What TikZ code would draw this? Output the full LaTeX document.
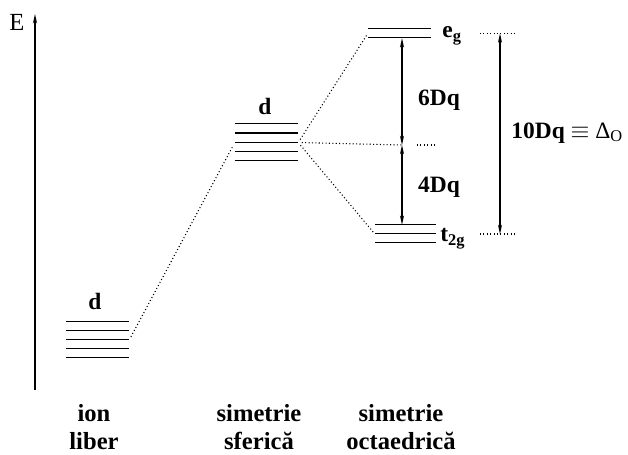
\documentclass[tikz,border=0pt]{standalone}
\usepackage{fontspec}
\setmainfont{Liberation Serif}
\usetikzlibrary{arrows.meta, positioning}
\tikzset{
  >={Stealth[length=8pt,width=3.5pt]}, % narrow arrow heads
  levels/.style={draw=none, inner sep=0pt, minimum width=1.89cm},
  levelline/.style={line width=1pt},
  dotline/.style={dotted, line width=0.9pt},
  gap/.style={<->, line width=1pt},
  lab/.style={font=\fontsize{20}{24}\selectfont\bfseries, inner sep=1pt},
  sym/.style={font=\fontsize{21}{24.5}\selectfont\bfseries, align=center, inner sep=1pt},
}

\begin{document}
\begin{tikzpicture}[x=0.03cm, y=-0.03cm]
    \useasboundingbox (0,0) rectangle (628,454);

    % energy axis
    \coordinate (axbot) at (35,390);
    \coordinate (axtop) at (35,14);
    \draw[->, line width=1.2pt] (axbot) -- (axtop);
    \node[font=\fontsize{21}{24}\selectfont, inner sep=0pt] (E) at (17,22) {E};

    % groups of levels
    \node[levels, minimum height=1.08cm] (free) at (97.5,340) {};
    \node[levels, minimum height=1.11cm] (sph) at (266.5,142.5) {};
    \node[levels, minimum height=0.27cm] (eg) at (399.5,33.5) {};
    \node[levels, minimum height=0.54cm, minimum width=1.83cm] (t2g) at (405.5,234) {};

    \foreach \k in {0,...,4}
      \draw[levelline] ([yshift=-\k*0.27cm]free.north west) -- ([yshift=-\k*0.27cm]free.north east);
    \foreach \k in {0,...,4}
      \draw[levelline] ([yshift=-\k*0.2775cm]sph.north west) -- ([yshift=-\k*0.2775cm]sph.north east);
    \foreach \k in {0,1}
      \draw[levelline] ([yshift=-\k*0.27cm]eg.north west) -- ([yshift=-\k*0.27cm]eg.north east);
    \foreach \k in {0,1,2}
      \draw[levelline] ([yshift=-\k*0.27cm]t2g.north west) -- ([yshift=-\k*0.27cm]t2g.north east);

    \node[lab] (dfree) at (95,301) {d};
    \node[lab] (dsph) at (265,106) {d};
    \node[lab, anchor=west] (eglab) at (441,36) {e\textsubscript{g}};
    \node[lab, anchor=west] (t2glab) at (439,239) {t\textsubscript{2g}};

    % correlation lines
    \coordinate (bary) at (402,145);
    \draw[dotline, shorten <=3pt, shorten >=3pt] (free.east) -- (sph.west);
    \draw[dotline, shorten <=3pt, shorten >=2pt] (sph.east) -- (eg.west);
    \draw[dotline, shorten <=3pt, shorten >=2pt] (sph.east) -- (t2g.west);
    \draw[dotline, shorten <=3pt] (sph.east) -- (bary);
    \draw[dotline] (417,145) -- (437,145);

    % splitting
    \draw[gap] (bary |- eg.south) -- (bary);
    \draw[gap] (bary) -- (bary |- t2g.north);
    \node[lab] (six) at (439,100) {6Dq};
    \node[lab] (four) at (439,187) {4Dq};

    \coordinate (dx) at (500,0);
    \draw[dotline] (480,33.5) -- (515,33.5);
    \draw[dotline] (480,234) -- (517,234);
    \draw[gap] (eg.east -| dx) -- (t2g.east -| dx);
    \node[lab, anchor=west] (delta) at (510,133) {10Dq $\equiv$ \mdseries Δ\textsubscript{O}};

    % bottom labels
    \node[sym] (ion) at (94,427) {ion\\liber};
    \node[sym] (sfer) at (259,427) {simetrie\\sferică};
    \node[sym] (octa) at (401,427) {simetrie\\octaedrică};
\end{tikzpicture}
\end{document}
